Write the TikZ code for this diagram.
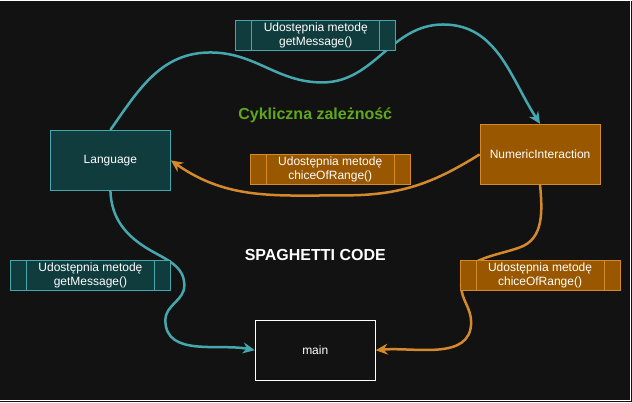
\documentclass[tikz,border=0pt]{standalone}
\usepackage{fontspec}
\setmainfont{Liberation Sans}
\usetikzlibrary{arrows.meta}
\definecolor{bgc}{HTML}{121212}
\definecolor{tealline}{HTML}{45A8AF}
\definecolor{tealfill}{HTML}{113C3E}
\definecolor{orline}{HTML}{D4892A}
\definecolor{orfill}{HTML}{995700}
\definecolor{cycgreen}{HTML}{5FA819}
\pgfdeclarelayer{background}
\pgfdeclarelayer{edges}
\pgfsetlayers{background,edges,main}
\begin{document}
\begin{tikzpicture}[x=1pt,y=1pt,
  box/.style={minimum width=120pt,minimum height=60pt,inner sep=0pt,line width=1pt,text=white,font=\fontsize{12}{14}\selectfont},
  tealbox/.style={box,draw=tealline,fill=tealfill},
  orbox/.style={box,draw=orline,fill=orfill},
  mainbox/.style={box,draw=white,fill=bgc},
  procbox/.style={minimum width=160pt,minimum height=30pt,inner sep=0pt,line width=1pt,text=white,align=center,
    font=\fontsize{12}{13.5}\selectfont,draw=#1,
    path picture={\draw[#1,line width=1pt]
      ([xshift=16pt]path picture bounding box.north west) -- ([xshift=16pt]path picture bounding box.south west)
      ([xshift=-16pt]path picture bounding box.north east) -- ([xshift=-16pt]path picture bounding box.south east);}},
  tealproc/.style={procbox=tealline,fill=tealfill},
  orproc/.style={procbox=orline,fill=orfill},
  title/.style={font=\bfseries\fontsize{16}{18}\selectfont},
  tealarrow/.style={draw=tealline,line width=2.5pt,-{Stealth[length=12pt,width=11pt,inset=4pt]}},
  orarrow/.style={draw=orline,line width=2.5pt,-{Stealth[length=12pt,width=11pt,inset=4pt]}}
]
\begin{pgfonlayer}{background}
\fill[bgc] (0,0) rectangle (632,-402);
\draw[white,line width=1pt] (630,0) -- (630,-400.5) -- (0,-400.5);
\end{pgfonlayer}
\useasboundingbox (0,0) rectangle (632,-402);

\node[tealbox] (lang) at (110,-160) {Language};
\node[orbox] (num) at (540,-154) {NumericInteraction};
\node[mainbox] (main) at (315,-350) {main};

\node[tealproc] (l1) at (315.5,-35) {Udostępnia metodę\\getMessage()};
\node[orproc] (l2) at (330,-169) {Udostępnia metodę\\chiceOfRange()};
\node[tealproc] (l3) at (90,-275) {Udostępnia metodę\\getMessage()};
\node[orproc] (l4) at (540,-275) {Udostępnia metodę\\chiceOfRange()};

\node[title,text=cycgreen] (cyc) at (315,-115) {Cykliczna zależność};
\node[title,text=white] (spag) at (315,-255) {SPAGHETTI CODE};

\coordinate (t1) at (210,-52);
\coordinate (t2) at (322,-82);
\coordinate (t3) at (443,-24);
\coordinate (o1) at (345,-195);
\coordinate (c1) at (150,-250);
\coordinate (c2) at (184,-285);
\coordinate (c3) at (165,-320);
\coordinate (d1) at (520,-247);
\coordinate (d2) at (461,-285);
\coordinate (d3) at (471,-322);

\begin{pgfonlayer}{edges}
\draw[tealarrow] (lang.north) to[out=55,in=180] (t1) to[out=0,in=180] (t2)
  to[out=0,in=180] (t3) to[out=0,in=123] (num.north);
\draw[orarrow] (num.west) to[out=-148,in=0] (o1) to[out=180,in=-35] (lang.east);
\draw[tealarrow] (lang.south) to[out=-88,in=150] (c1) to[out=-30,in=90] (c2)
  to[out=-90,in=90] (c3) to[out=-90,in=169] (main.west);
\draw[orarrow] (num.south) to[out=-85,in=20] (d1) to[out=200,in=90] (d2)
  to[out=-90,in=90] (d3) to[out=-90,in=5] (main.east);
\end{pgfonlayer}
\end{tikzpicture}
\end{document}
